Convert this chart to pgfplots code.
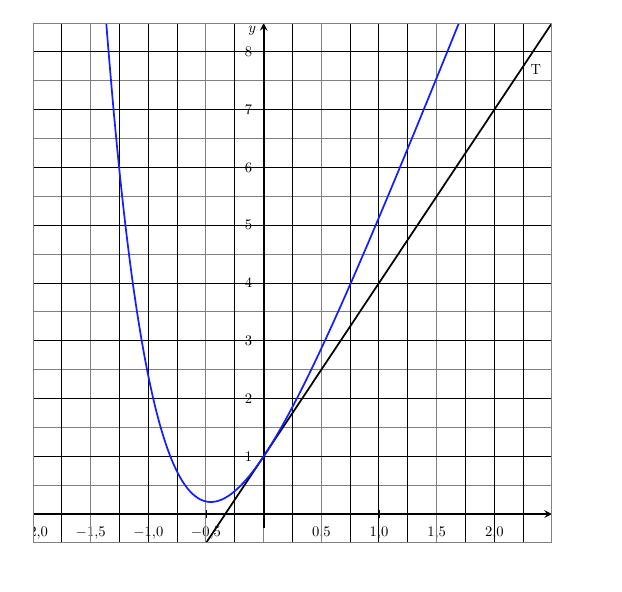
\documentclass[border=0pt]{standalone}
\usepackage{pgfplots}
\pgfplotsset{compat=1.18}
\definecolor{gridgray}{RGB}{128,128,128}
\definecolor{curveblue}{RGB}{20,30,255}
\begin{document}
\begin{tikzpicture}
\path[use as bounding box] (-24.75pt,-36.75pt) rectangle (441.75pt,407.25pt);
\begin{scope}
\clip (0pt,-36.75pt) rectangle (441.75pt,407.25pt);
\begin{axis}[
  at={(0pt,0pt)}, anchor=south west,
  scale only axis, width=389.25pt, height=390pt,
  xmin=-2, xmax=2.5, ymin=-0.5, ymax=8.5,
  axis lines=middle,
  axis line style={draw=none},
  xtick={-2,-1.5,-1,-0.5,0.5,1,1.5,2},
  ytick={1,2,3,4,5,6,7,8},
  x tick label style={yshift=-3pt, /pgf/number format/.cd, use comma, fixed, fixed zerofill, precision=1},
  y tick label style={xshift=-2pt},
  x tick style={black, line width=0.8pt},
  y tick style={draw=none},
  major tick length=6pt,
  tick label style={font=\fontsize{11}{13}\selectfont},
  clip=true,
]
% grid
\pgfplotsinvokeforeach{-0.5,0.5,1.5,2.5,3.5,4.5,5.5,6.5,7.5,8.5}{\draw[gridgray, line width=0.75pt] (axis cs:-2,#1) -- (axis cs:2.5,#1);}
\pgfplotsinvokeforeach{-2,-1.5,-0.5,0,0.5,1.5,2.5}{\draw[gridgray, line width=0.75pt] (axis cs:#1,-0.5) -- (axis cs:#1,8.5);}
\pgfplotsinvokeforeach{1,2,3,4,5,6,7,8}{\draw[black, line width=0.75pt] (axis cs:-2,#1) -- (axis cs:2.5,#1);}
\pgfplotsinvokeforeach{-1.75,-1.25,-1,-0.75,-0.25,0.25,0.75,1,1.25,1.75,2,2.25}{\draw[black, line width=0.75pt] (axis cs:#1,-0.5) -- (axis cs:#1,8.5);}
% axes
\draw[black, line width=1.5pt, -stealth] (axis cs:-2,0) -- (axis cs:2.5,0);
\draw[black, line width=1.5pt, -stealth] (axis cs:0,-0.24) -- (axis cs:0,8.5);
% tangent T
\addplot[black, line width=1.3pt] coordinates {(-0.5,-0.5) (2.5,8.5)};
% curve
\addplot[curveblue, line width=1.3pt, smooth] coordinates {
(-1.40,9.4446) (-1.375,8.7676) (-1.35,8.1297) (-1.30,6.9637) (-1.25,5.9325) (-1.20,5.0232)
(-1.15,4.2242) (-1.10,3.5250) (-1.05,2.9162) (-1.00,2.3891) (-0.95,1.9359) (-0.90,1.5496)
(-0.85,1.2239) (-0.80,0.9530) (-0.75,0.7317) (-0.70,0.5552) (-0.65,0.4193) (-0.60,0.3201)
(-0.55,0.2542) (-0.50,0.2183) (-0.45,0.2096) (-0.40,0.2255) (-0.35,0.2638) (-0.30,0.3221)
(-0.25,0.3987) (-0.20,0.4918) (-0.15,0.5999) (-0.10,0.7214) (-0.05,0.8552) (0.00,1.0000)
(0.05,1.1548) (0.10,1.3187) (0.15,1.4908) (0.20,1.6703) (0.25,1.8565) (0.30,2.0488)
(0.35,2.2466) (0.40,2.4493) (0.45,2.6566) (0.50,2.8679) (0.60,3.3012) (0.70,3.7466)
(0.80,4.2019) (0.90,4.6653) (1.00,5.1353) (1.10,5.6108) (1.20,6.0907) (1.30,6.5743)
(1.40,7.0608) (1.50,7.5498) (1.60,8.0408) (1.70,8.5334) (1.75,8.7802)
};
\node[font=\fontsize{11}{13}\selectfont] at (axis cs:2.36,7.7) {T};
\node[font=\fontsize{11}{13}\selectfont] at (axis cs:-0.1,8.37) {$y$};
\end{axis}
\draw[gridgray, line width=0.75pt] (current axis.south west) rectangle (current axis.north east);
\end{scope}
\end{tikzpicture}
\end{document}
